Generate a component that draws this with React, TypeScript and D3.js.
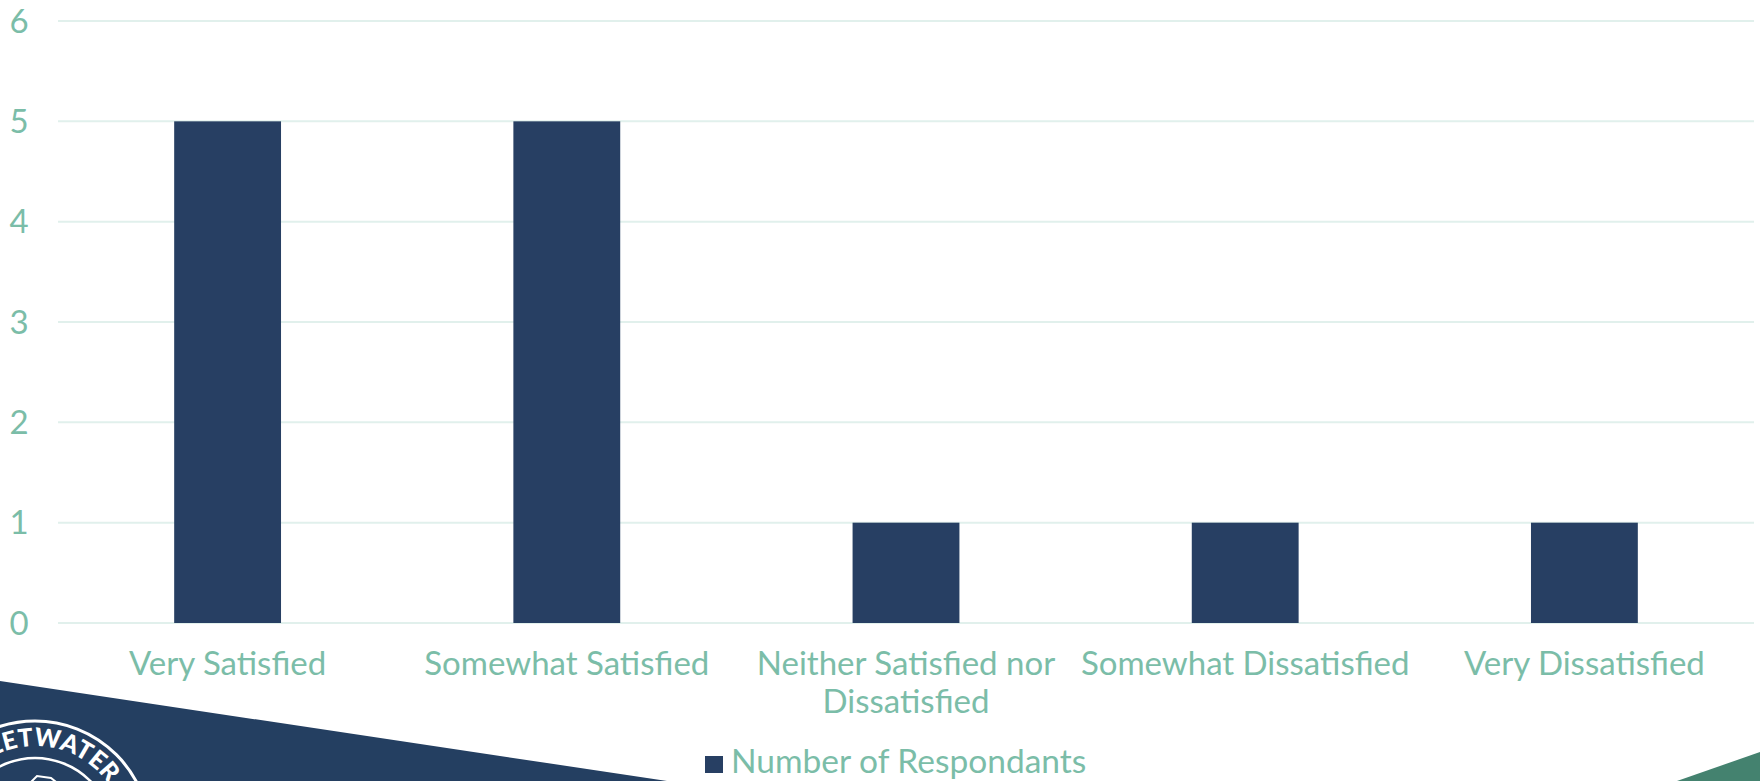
import React, { useEffect, useRef } from 'react';
import * as d3 from 'd3';

const categories = [
  'Very Satisfied',
  'Somewhat Satisfied',
  'Neither Satisfied nor Dissatisfied',
  'Somewhat Dissatisfied',
  'Very Dissatisfied',
];
const respondents = [5, 5, 1, 1, 1];
const yTicks = [0, 1, 2, 3, 4, 5, 6];
const seriesName = 'Number of Respondants';

const width = 1760;
const height = 781;
const margin = { top: 21, right: 6, bottom: 158, left: 58 };
const textColor = '#7bbda8';
const barColor = '#273f63';
const gridColor = '#e1f0ec';
const font = 'Lato, "Noto Sans", sans-serif';

const App = () => {
  const chart = useRef<SVGSVGElement>(null);

  const x = d3.scaleBand()
    .domain(categories)
    .range([margin.left, width - margin.right])
    .paddingInner(0.685)
    .paddingOuter(0.3425);

  const y = d3.scaleLinear()
    .domain([0, 6])
    .range([height - margin.bottom, margin.top]);

  useEffect(() => {
    const svg = d3.select(chart.current);
    svg.selectAll('*').remove();

    // background shapes
    svg.append('polygon')
      .attr('points', '0,681 667,781 0,781')
      .attr('fill', '#243f61');
    svg.append('polygon')
      .attr('points', '1677,781 1760,752 1760,781')
      .attr('fill', '#44826f');

    // seal
    const seal = svg.append('g').attr('transform', 'translate(35,836)');
    seal.append('circle').attr('r', 115).attr('fill', 'none')
      .attr('stroke', '#fff').attr('stroke-width', 3);
    seal.append('circle').attr('r', 78).attr('fill', 'none')
      .attr('stroke', '#fff').attr('stroke-width', 2.5);
    seal.append('path').attr('id', 'sealArc')
      .attr('d', 'M -90,0 A 90,90 0 0 1 90,0')
      .attr('fill', 'none');
    seal.append('text')
      .attr('fill', '#fff')
      .attr('font-family', 'Lato, sans-serif')
      .attr('font-weight', 900)
      .attr('font-size', 25)
      .append('textPath')
      .attr('href', '#sealArc')
      .attr('startOffset', '50%')
      .attr('text-anchor', 'middle')
      .text('SWEETWATER');
    seal.append('path')
      .attr('d', 'M -74,-22 L -45,-38 L -22,-36 L 2,-60 L 16,-58 L 44,-36 L 74,-24')
      .attr('fill', 'none').attr('stroke', '#fff').attr('stroke-width', 2);

    // grid
    svg.append('g')
      .selectAll('line')
      .data(yTicks)
      .join('line')
      .attr('x1', margin.left)
      .attr('x2', width - margin.right)
      .attr('y1', d => y(d))
      .attr('y2', d => y(d))
      .attr('stroke', gridColor)
      .attr('stroke-width', 2);

    // y labels
    svg.append('g')
      .selectAll('text')
      .data(yTicks)
      .join('text')
      .attr('x', 19)
      .attr('y', d => y(d))
      .attr('dy', '0.35em')
      .attr('text-anchor', 'middle')
      .attr('fill', textColor)
      .attr('font-family', font)
      .attr('font-size', 33)
      .text(d => d);

    // bars
    svg.append('g')
      .selectAll('rect')
      .data(respondents)
      .join('rect')
      .attr('x', (d, i) => x(categories[i]))
      .attr('width', x.bandwidth())
      .attr('y', d => y(d))
      .attr('height', d => y(0) - y(d))
      .attr('fill', barColor);

    // x labels with wrapping
    const labels = svg.append('g')
      .selectAll('text')
      .data(categories)
      .join('text')
      .attr('x', d => x(d) + x.bandwidth() / 2)
      .attr('y', 675)
      .attr('text-anchor', 'middle')
      .attr('fill', textColor)
      .attr('font-family', font)
      .attr('font-size', 33);

    labels.each(function (d) {
      const t = d3.select(this);
      const words = d.split(' ');
      const maxW = x.step() - 8;
      let line: string[] = [];
      let tspan = t.append('tspan').attr('x', x(d) + x.bandwidth() / 2).attr('dy', 0);
      words.forEach(w => {
        line.push(w);
        tspan.text(line.join(' '));
        if ((tspan.node() as SVGTSpanElement).getComputedTextLength() > maxW && line.length > 1) {
          line.pop();
          tspan.text(line.join(' '));
          line = [w];
          tspan = t.append('tspan')
            .attr('x', x(d) + x.bandwidth() / 2)
            .attr('dy', 38)
            .text(w);
        }
      });
    });

    // legend
    const legend = svg.append('g');
    legend.append('rect')
      .attr('x', 705).attr('y', 756)
      .attr('width', 18).attr('height', 17)
      .attr('fill', barColor);
    legend.append('text')
      .attr('x', 731).attr('y', 773)
      .attr('fill', textColor)
      .attr('font-family', font)
      .attr('font-size', 33.5)
      .text(seriesName);
  }, []);

  return (
    <svg
      ref={chart}
      width={width}
      height={height}
      style={{ position: 'absolute', left: 0, top: 0, display: 'block', background: '#fff' }}
    />
  );
};

export default App;
